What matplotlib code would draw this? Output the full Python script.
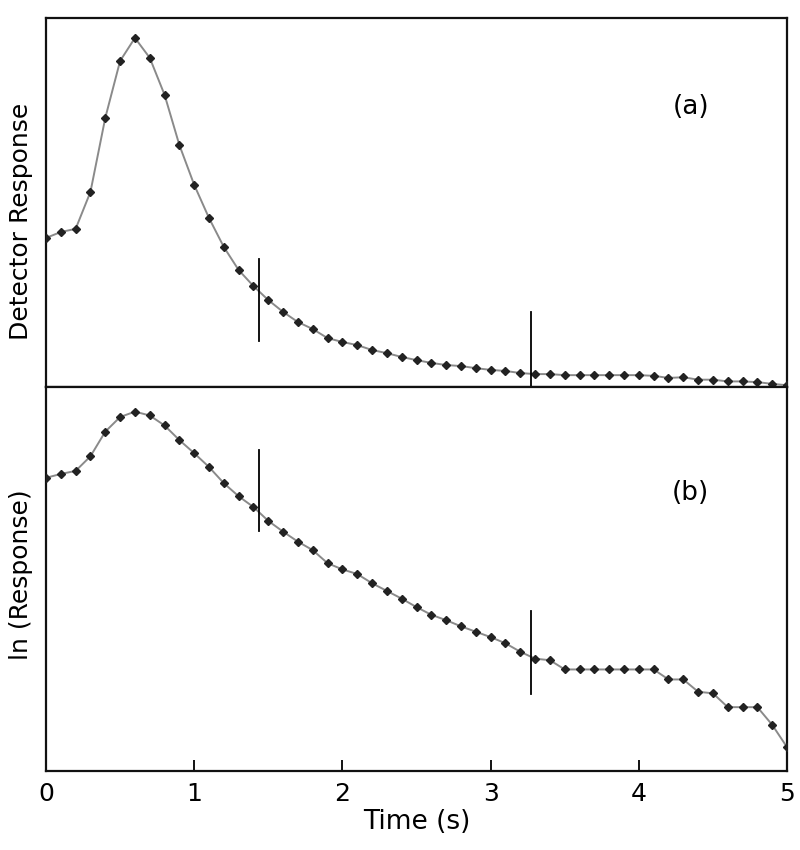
import numpy as np
import matplotlib
matplotlib.use("Agg")
import matplotlib.pyplot as plt

# Time points (s)
time_s = [round(0.1 * i, 1) for i in range(51)]

# (a) Detector response (arbitrary units, peak = 100)
detector_response = [
    42.7, 44.4, 45.3, 55.9, 77.1, 93.4, 100.0, 94.3, 83.7, 69.3,
    57.9, 48.4, 40.1, 33.5, 28.9, 24.9, 21.5, 18.6, 16.6, 14.0,
    12.9, 12.0, 10.6, 9.7, 8.6, 7.7, 6.9, 6.3, 6.0, 5.4,
    4.9, 4.6, 4.0, 3.7, 3.7, 3.4, 3.4, 3.4, 3.4, 3.4,
    3.4, 3.2, 2.6, 2.8, 2.1, 2.1, 1.6, 1.6, 1.4, 0.9,
    0.5,
]

# (b) ln(response)
ln_response = [
    3.75, 3.80, 3.84, 4.03, 4.35, 4.54, 4.61, 4.56, 4.43, 4.24,
    4.07, 3.89, 3.68, 3.51, 3.37, 3.19, 3.05, 2.92, 2.81, 2.64,
    2.56, 2.50, 2.38, 2.28, 2.18, 2.07, 1.97, 1.90, 1.82, 1.75,
    1.68, 1.60, 1.49, 1.40, 1.38, 1.26, 1.26, 1.26, 1.26, 1.26,
    1.26, 1.26, 1.13, 1.13, 0.97, 0.95, 0.77, 0.77, 0.77, 0.54,
    0.25,
]

# Vertical marker positions (s)
marker_times = [1.44, 3.27]

panel_labels = ["(a)", "(b)"]
y_labels = ["Detector Response", "ln (Response)"]
x_label = "Time (s)"
x_ticks = [0, 1, 2, 3, 4, 5]

plt.rcParams['font.family'] = ['DejaVu Sans']

fig = plt.figure(figsize=(8, 8.5), dpi=100)
ax_a = fig.add_axes([0.0575, 0.5447, 0.9263, 0.4341])
ax_b = fig.add_axes([0.0575, 0.0929, 0.9263, 0.4518])

line_kw = dict(color="#8a8a8a", lw=1.4, marker="D", markersize=4.2,
               markerfacecolor="#222222", markeredgecolor="#222222", zorder=3)

ax_a.plot(time_s, detector_response, **line_kw)
ax_b.plot(time_s, ln_response, **line_kw)

ax_a.set_xlim(0, 5)
ax_a.set_ylim(0, 105.7)
ax_b.set_xlim(0, 5)
ax_b.set_ylim(-0.06, 4.93)

# vertical markers
ax_a.plot([marker_times[0]] * 2, [13.2, 36.7], color="black", lw=1.3, zorder=4)
ax_a.plot([marker_times[1]] * 2, [-2.3, 21.5], color="black", lw=1.3, zorder=4, clip_on=False)
ax_b.plot([marker_times[0]] * 2, [3.06, 4.11], color="black", lw=1.3, zorder=4)
ax_b.plot([marker_times[1]] * 2, [0.94, 2.02], color="black", lw=1.3, zorder=4)

for ax in (ax_a, ax_b):
    for s in ax.spines.values():
        s.set_linewidth(1.6)
        s.set_color("#111111")
    ax.set_yticks([])

ax_a.set_xticks([])
ax_b.set_xticks(x_ticks)
ax_b.set_xticklabels([str(t) for t in x_ticks], fontsize=18)
ax_b.tick_params(axis="x", direction="in", length=8, width=1.3, pad=8)
ax_b.set_xlabel(x_label, fontsize=19, labelpad=2)

ax_a.set_ylabel(y_labels[0], fontsize=18)
ax_b.set_ylabel(y_labels[1], fontsize=18)
ax_a.yaxis.set_label_coords(-0.017, 0.45)
ax_b.yaxis.set_label_coords(-0.017, 0.51)

ax_a.text(0.87, 0.76, panel_labels[0], transform=ax_a.transAxes, fontsize=19,
          ha="center", va="center")
ax_b.text(0.87, 0.725, panel_labels[1], transform=ax_b.transAxes, fontsize=19,
          ha="center", va="center")

fig.savefig("out.png", dpi=100)
